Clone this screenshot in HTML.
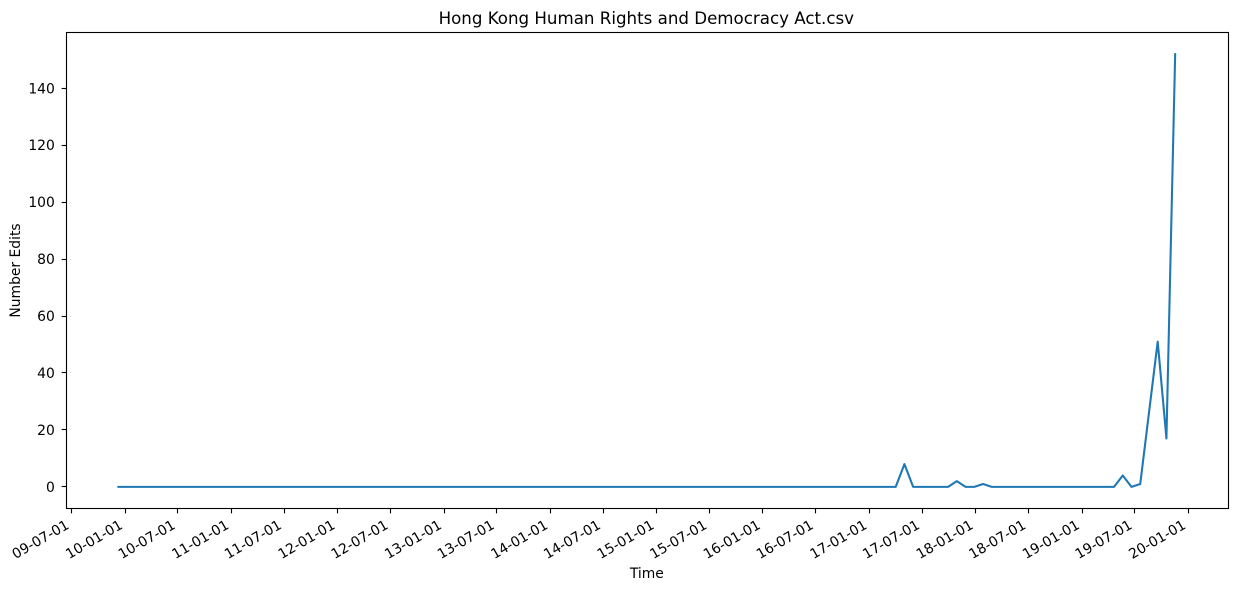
<!DOCTYPE html>
<html lang="en">
<head>
<meta charset="utf-8">
<title>Hong Kong Human Rights and Democracy Act.csv</title>
<style>
html,body{margin:0;padding:0;background:#fff;}
svg{display:block;}
text{font-family:"DejaVu Sans","Liberation Sans",sans-serif;fill:#000;}
</style>
</head>
<body>
<svg id="chart" xmlns="http://www.w3.org/2000/svg" width="1238" height="591" viewBox="0 0 1238 591">
  <text x="646.3" y="24" font-size="16.67" text-anchor="middle">Hong Kong Human Rights and Democracy Act.csv</text>
  <text x="646.8" y="578" font-size="13.89" text-anchor="middle">Time</text>
  <text transform="translate(20,270.5) rotate(-90)" font-size="13.89" text-anchor="middle">Number Edits</text>
  <g id="ticks"></g>
  <path id="series" fill="none" stroke="#1f77b4" stroke-width="2.08" stroke-linejoin="round" stroke-linecap="square"></path>
  <rect x="66.5" y="32.5" width="1162" height="476" fill="none" stroke="#000" stroke-width="1.11"></rect>
</svg>
<script>
const dates = [
"2009-12-09","2010-01-08","2010-02-07","2010-03-09","2010-04-08","2010-05-08","2010-06-07","2010-07-07","2010-08-06","2010-09-05","2010-10-05","2010-11-04","2010-12-04",
"2011-01-03","2011-02-02","2011-03-04","2011-04-03","2011-05-03","2011-06-02","2011-07-02","2011-08-01","2011-08-31","2011-09-30","2011-10-30","2011-11-29","2011-12-29",
"2012-01-28","2012-02-27","2012-03-28","2012-04-27","2012-05-27","2012-06-26","2012-07-26","2012-08-25","2012-09-24","2012-10-24","2012-11-23","2012-12-23",
"2013-01-22","2013-02-21","2013-03-23","2013-04-22","2013-05-22","2013-06-21","2013-07-21","2013-08-20","2013-09-19","2013-10-19","2013-11-18","2013-12-18",
"2014-01-17","2014-02-16","2014-03-18","2014-04-17","2014-05-17","2014-06-16","2014-07-16","2014-08-15","2014-09-14","2014-10-14","2014-11-13","2014-12-13",
"2015-01-12","2015-02-11","2015-03-13","2015-04-12","2015-05-12","2015-06-11","2015-07-11","2015-08-10","2015-09-09","2015-10-09","2015-11-08","2015-12-08",
"2016-01-07","2016-02-06","2016-03-07","2016-04-06","2016-05-06","2016-06-05","2016-07-05","2016-08-04","2016-09-03","2016-10-03","2016-11-02","2016-12-02",
"2017-01-01","2017-01-31","2017-03-02","2017-04-01","2017-05-01","2017-05-31","2017-06-30","2017-07-30","2017-08-29","2017-09-28","2017-10-28","2017-11-27","2017-12-27",
"2018-01-26","2018-02-25","2018-03-27","2018-04-26","2018-05-26","2018-06-25","2018-07-25","2018-08-24","2018-09-23","2018-10-23","2018-11-22","2018-12-22",
"2019-01-21","2019-02-20","2019-03-22","2019-04-21","2019-05-21","2019-06-20","2019-07-20","2019-08-19","2019-09-18","2019-10-18","2019-11-17"
];
const edits = [
0,0,0,0,0,0,0,0,0,0,0,0,0,
0,0,0,0,0,0,0,0,0,0,0,0,0,
0,0,0,0,0,0,0,0,0,0,0,0,
0,0,0,0,0,0,0,0,0,0,0,0,
0,0,0,0,0,0,0,0,0,0,0,0,
0,0,0,0,0,0,0,0,0,0,0,0,
0,0,0,0,0,0,0,0,0,0,0,0,
0,0,0,0,8,0,0,0,0,0,2,0,0,
1,0,0,0,0,0,0,0,0,0,0,0,
0,0,0,0,4,0,1,26,51,17,152
];
const xTickDates = ["2009-07-01","2010-01-01","2010-07-01","2011-01-01","2011-07-01","2012-01-01","2012-07-01","2013-01-01","2013-07-01","2014-01-01","2014-07-01","2015-01-01","2015-07-01","2016-01-01","2016-07-01","2017-01-01","2017-07-01","2018-01-01","2018-07-01","2019-01-01","2019-07-01","2020-01-01"];
const xTickLabels = ["09-07-01","10-01-01","10-07-01","11-01-01","11-07-01","12-01-01","12-07-01","13-01-01","13-07-01","14-01-01","14-07-01","15-01-01","15-07-01","16-01-01","16-07-01","17-01-01","17-07-01","18-01-01","18-07-01","19-01-01","19-07-01","20-01-01"];
const yTicks = [0,20,40,60,80,100,120,140];

const SVG_NS = "http://www.w3.org/2000/svg";
const plot = {left:65.6, right:1228.0, top:32.5, bottom:508.5};
const frameEdge = {left:66.5, bottom:508.5};
const dayMs = 86400000;
const toDay = function (d) { return Date.parse(d + "T00:00:00Z") / dayMs; };
const snap = function (p) { return Math.floor(p) + 0.5; };

const dayValues = dates.map(toDay);
const dayMin = Math.min.apply(null, dayValues);
const dayMax = Math.max.apply(null, dayValues);
const dayPad = (dayMax - dayMin) * 0.05;
const yMax = Math.max.apply(null, edits);
const yMin = Math.min.apply(null, edits);
const yPad = (yMax - yMin) * 0.05;

function xScale(day) {
  return plot.left + (day - (dayMin - dayPad)) / ((dayMax + dayPad) - (dayMin - dayPad)) * (plot.right - plot.left);
}
function yScale(v) {
  return plot.bottom - (v - (yMin - yPad)) / ((yMax + yPad) - (yMin - yPad)) * (plot.bottom - plot.top);
}

const tickLayer = document.getElementById("ticks");

xTickDates.forEach(function (d, i) {
  const x = xScale(toDay(d));
  const line = document.createElementNS(SVG_NS, "line");
  
  
  line.setAttribute("x1", snap(x));
  line.setAttribute("x2", snap(x));
  line.setAttribute("y1", frameEdge.bottom);
  line.setAttribute("y2", frameEdge.bottom + 4.86);
  line.setAttribute("stroke", "#000");
  line.setAttribute("stroke-width", "1.11");
  tickLayer.appendChild(line);
  const label = document.createElementNS(SVG_NS, "text");
  
  
  label.setAttribute("transform", "translate(" + (x - 1.5) + ",527.7) rotate(-30)");
  label.setAttribute("font-size", "13.89");
  label.setAttribute("text-anchor", "end");
  label.textContent = xTickLabels[i];
  tickLayer.appendChild(label);
});

yTicks.forEach(function (v) {
  const y = yScale(v);
  const line = document.createElementNS(SVG_NS, "line");
  
  
  line.setAttribute("x1", frameEdge.left - 4.86);
  line.setAttribute("x2", frameEdge.left);
  line.setAttribute("y1", snap(y));
  line.setAttribute("y2", snap(y));
  line.setAttribute("stroke", "#000");
  line.setAttribute("stroke-width", "1.11");
  tickLayer.appendChild(line);
  const label = document.createElementNS(SVG_NS, "text");
  
  
  label.setAttribute("x", frameEdge.left - 11.7);
  label.setAttribute("y", y + 5);
  label.setAttribute("font-size", "13.89");
  label.setAttribute("text-anchor", "end");
  label.textContent = String(v);
  tickLayer.appendChild(label);
});

const pathData = edits.map(function (v, i) {
  return (i ? "L" : "M") + xScale(dayValues[i]).toFixed(2) + " " + yScale(v).toFixed(2);
}).join(" ");
document.getElementById("series").setAttribute("d", pathData);
</script>
</body>
</html>
